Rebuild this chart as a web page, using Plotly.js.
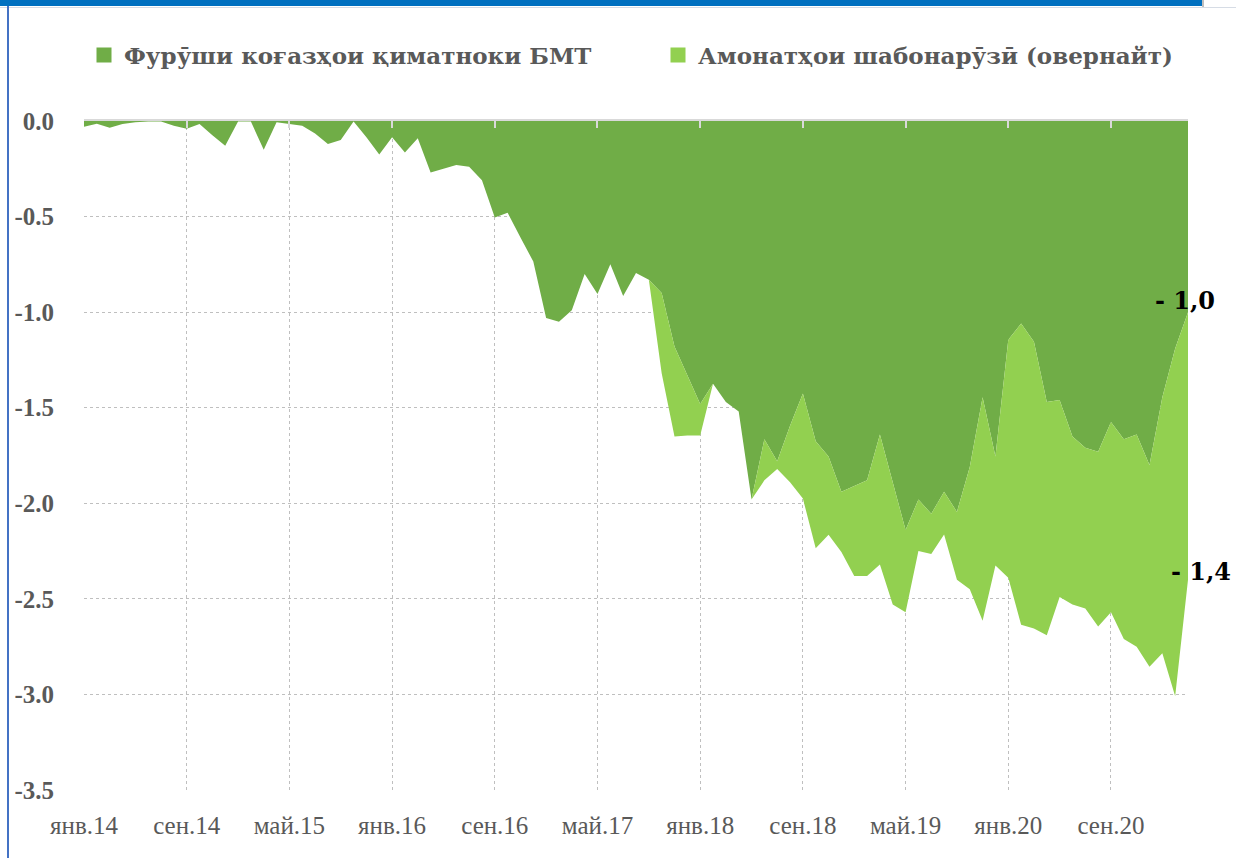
<!DOCTYPE html>
<html>
<head>
<meta charset="utf-8">
<script src="https://cdn.plot.ly/plotly-3.0.1.min.js"></script>
<style>
  html, body { margin: 0; padding: 0; background: #ffffff; }
  #chart { width: 1236px; height: 858px; }
</style>
</head>
<body>
<div id="chart"></div>
<script>
// ---------------- DATA ----------------
const monthNames = ["янв", "фев", "мар", "апр", "май", "июн", "июл", "авг", "сен", "окт", "ноя", "дек"];
const startYear = 14;
const monthCount = 87; // янв.14 .. мар.21

const categories = [];
for (let i = 0; i < monthCount; i++) {
  categories.push(monthNames[i % 12] + "." + (startYear + Math.floor(i / 12)));
}

const seriesNames = ["Фурӯши коғазҳои қиматноки БМТ", "Амонатҳои шабонарӯзӣ (овернайт)"];

// Фурӯши коғазҳои қиматноки БМТ
const securitiesSales = [
  -0.03, -0.014, -0.035, -0.016, -0.006, -0.002, -0.002, -0.025, -0.04, -0.016,
  -0.075, -0.13, -0.003, -0.003, -0.15, -0.006, -0.016, -0.025, -0.065, -0.12,
  -0.10, -0.002, -0.085, -0.175, -0.085, -0.165, -0.09, -0.27, -0.25, -0.23,
  -0.24, -0.31, -0.505, -0.48, -0.61, -0.735, -1.03, -1.05, -0.99, -0.80,
  -0.905, -0.75, -0.915, -0.795, -0.83, -0.90, -1.18, -1.33, -1.48, -1.375,
  -1.47, -1.52, -1.98, -1.665, -1.78, -1.595, -1.425, -1.675, -1.755, -1.94,
  -1.91, -1.88, -1.64, -1.89, -2.14, -1.98, -2.055, -1.94, -2.045, -1.81,
  -1.445, -1.755, -1.145, -1.06, -1.155, -1.47, -1.46, -1.65, -1.71, -1.73,
  -1.575, -1.665, -1.64, -1.80, -1.445, -1.19, -1.00
];

// Амонатҳои шабонарӯзӣ (овернайт)
const overnightDeposits = [
  0, 0, 0, 0, 0, 0, 0, 0, 0, 0,
  0, 0, 0, 0, 0, 0, 0, 0, 0, 0,
  0, 0, 0, 0, 0, 0, 0, 0, 0, 0,
  0, 0, 0, 0, 0, 0, 0, 0, 0, 0,
  0, 0, 0, 0, 0, -0.42, -0.47, -0.315, -0.165, 0,
  0, 0, 0, -0.215, -0.04, -0.295, -0.55, -0.56, -0.41, -0.315,
  -0.47, -0.50, -0.68, -0.64, -0.43, -0.27, -0.21, -0.223, -0.355, -0.64,
  -1.17, -0.57, -1.245, -1.575, -1.50, -1.22, -1.03, -0.88, -0.84, -0.915,
  -0.995, -1.045, -1.11, -1.055, -1.34, -1.82, -1.40
];

const xTickLabels = ["янв.14", "сен.14", "май.15", "янв.16", "сен.16", "май.17", "янв.18", "сен.18", "май.19", "янв.20", "сен.20"];
const yTickVals = [0, -0.5, -1.0, -1.5, -2.0, -2.5, -3.0, -3.5];
const yTickText = ["0.0", "-0.5", "-1.0", "-1.5", "-2.0", "-2.5", "-3.0", "-3.5"];
const endLabels = ["- 1,0", "- 1,4"];

// ---------------- STYLE ----------------
const colors = ["#70AD47", "#92D050"];
const W = 1236, H = 858;
const M = { l: 84, r: 48, t: 121, b: 68 };
const plotW = W - M.l - M.r, plotH = H - M.t - M.b;
const px = x => (x - M.l) / plotW;
const py = y => (H - M.b - y) / plotH;

const last = monthCount - 1;
const tickIdx = xTickLabels.map(l => categories.indexOf(l));

const legendFont = { family: "DejaVu Serif", size: 23, color: "#595959", weight: "bold" };

const traces = [
  {
    x: categories, y: securitiesSales, type: "scatter", mode: "lines",
    stackgroup: "one", fillcolor: colors[0], line: { width: 0, color: colors[0] },
    name: seriesNames[0], showlegend: false, hoverinfo: "skip"
  },
  {
    x: categories, y: overnightDeposits, type: "scatter", mode: "lines",
    stackgroup: "one", fillcolor: colors[1], line: { width: 0, color: colors[1] },
    name: seriesNames[1], showlegend: false, hoverinfo: "skip"
  },
  {
    x: [null], y: [null], xaxis: "x2", type: "scatter", mode: "markers", name: seriesNames[0],
    marker: { symbol: "square", size: 15, color: colors[0] }, hoverinfo: "skip", legend: "legend"
  },
  {
    x: [null], y: [null], xaxis: "x2", type: "scatter", mode: "markers", name: seriesNames[1],
    marker: { symbol: "square", size: 15, color: colors[1] }, hoverinfo: "skip", legend: "legend2"
  }
];

const layout = {
  width: W, height: H,
  margin: M,
  paper_bgcolor: "#ffffff", plot_bgcolor: "#ffffff",
  showlegend: true,
  legend: {
    orientation: "h", x: px(84), xanchor: "left", y: py(55), yanchor: "middle",
    font: legendFont, bgcolor: "rgba(0,0,0,0)", itemclick: false
  },
  legend2: {
    orientation: "h", x: px(658), xanchor: "left", y: py(55), yanchor: "middle",
    font: legendFont, bgcolor: "rgba(0,0,0,0)", itemclick: false
  },
  xaxis: {
    type: "category", range: [0, last],
    tickmode: "array", tickvals: xTickLabels, ticktext: xTickLabels,
    showgrid: true, gridcolor: "#bfbfbf", griddash: "dot", gridwidth: 1,
    zeroline: false, showline: false, ticks: "", tickangle: 0,
    ticklabelstandoff: 18,
    tickfont: { family: "Liberation Serif", size: 25, color: "#595959" },
    fixedrange: true
  },
  xaxis2: {
    overlaying: "x", side: "top", anchor: "y", type: "linear", range: [0, last],
    tickmode: "array", tickvals: tickIdx, showticklabels: false,
    ticks: "inside", ticklen: 7, tickwidth: 2, tickcolor: "#d9d9d9",
    showline: true, linecolor: "#d9d9d9", linewidth: 2,
    showgrid: false, zeroline: false, layer: "above traces", fixedrange: true
  },
  yaxis: {
    range: [-3.5, 0], tickmode: "array", tickvals: yTickVals, ticktext: yTickText,
    showgrid: true, gridcolor: "#bfbfbf", griddash: "dot", gridwidth: 1,
    zeroline: false, showline: false, ticks: "",
    ticklabelstandoff: 29,
    tickfont: { family: "Liberation Serif", size: 25, color: "#595959", weight: "bold" },
    fixedrange: true
  },
  annotations: [
    {
      x: categories[last], y: securitiesSales[last], xref: "x", yref: "y",
      text: endLabels[0], showarrow: false, xanchor: "center", yanchor: "middle",
      xshift: -3, yshift: 12,
      font: { family: "DejaVu Serif", size: 24, color: "#000000", weight: "bold" }
    },
    {
      x: categories[last], y: securitiesSales[last] + overnightDeposits[last], xref: "x", yref: "y",
      text: endLabels[1], showarrow: false, xanchor: "center", yanchor: "middle",
      xshift: 13, yshift: 8,
      font: { family: "DejaVu Serif", size: 24, color: "#000000", weight: "bold" }
    }
  ],
  shapes: [
    { type: "rect", xref: "paper", yref: "paper", x0: px(0), x1: px(1202), y0: py(6), y1: py(0),
      fillcolor: "#0070C0", line: { width: 0 }, layer: "above" },
    { type: "line", xref: "paper", yref: "paper", x0: px(0), x1: px(W), y0: py(7.5), y1: py(7.5),
      line: { color: "#d6dce5", width: 1 } },
    { type: "line", xref: "paper", yref: "paper", x0: px(1203), x1: px(1203), y0: py(7), y1: py(0),
      line: { color: "#7f7f7f", width: 1 } },
    { type: "line", xref: "paper", yref: "paper", x0: px(8), x1: px(8), y0: py(H), y1: py(6),
      line: { color: "#4472C4", width: 2 } }
  ]
};

Plotly.newPlot("chart", traces, layout, { displayModeBar: false, staticPlot: true });
</script>
</body>
</html>
